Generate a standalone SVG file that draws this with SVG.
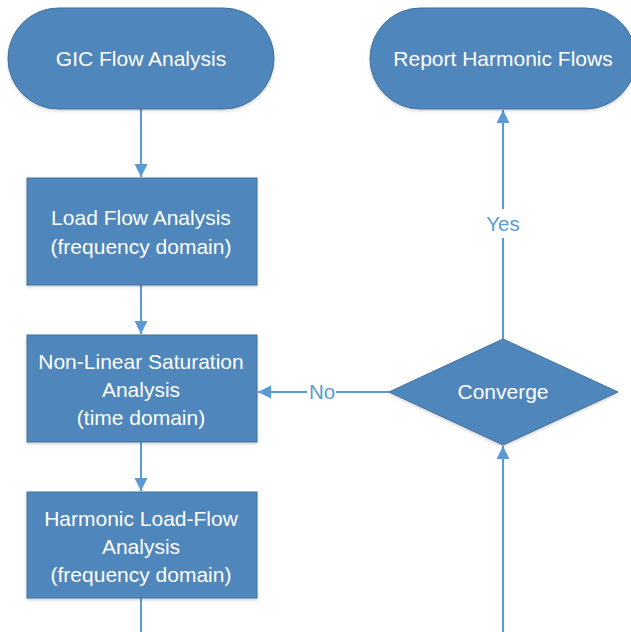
<svg xmlns="http://www.w3.org/2000/svg" width="631" height="632" viewBox="0 0 631 632">
<style>
.node{fill:#4f86bc;stroke:#41719c;stroke-width:1;filter:url(#sh)}
.t{font-family:"Liberation Sans",Arial,sans-serif;font-size:21px;fill:#ffffff;text-anchor:middle}
.c{fill:none;stroke:#5b9bd5;stroke-width:2}
.lbl{font-family:"Liberation Sans",Arial,sans-serif;font-size:20.5px;fill:#5b9bd5;text-anchor:middle}
</style>
<defs>
<filter id="sh" x="-10%" y="-10%" width="120%" height="130%">
<feDropShadow dx="0" dy="1.5" stdDeviation="1.5" flood-color="#000" flood-opacity="0.18"/>
</filter>
<marker id="ah" markerUnits="userSpaceOnUse" markerWidth="14" markerHeight="14" viewBox="0 0 14 14" refX="13" refY="7" orient="auto">
<path d="M0,0.5 L13,7 L0,13.5 Z" fill="#5b9bd5"/>
</marker>
</defs>
<rect width="631" height="632" fill="#ffffff"/>
<g id="connectors">
<line class="c" x1="141" y1="109" x2="141" y2="177" marker-end="url(#ah)"/>
<line class="c" x1="141" y1="285" x2="141" y2="334" marker-end="url(#ah)"/>
<line class="c" x1="141" y1="442" x2="141" y2="491" marker-end="url(#ah)"/>
<line class="c" x1="141" y1="598" x2="141" y2="632"/>
<line class="c" x1="503" y1="632" x2="503" y2="446" marker-end="url(#ah)"/>
<line class="c" x1="503" y1="339" x2="503" y2="238"/>
<line class="c" x1="503" y1="209" x2="503" y2="110" marker-end="url(#ah)"/>
<line class="c" x1="389" y1="392" x2="336" y2="392"/>
<line class="c" x1="307" y1="392" x2="258" y2="392" marker-end="url(#ah)"/>
<text class="lbl" x="503" y="231">Yes</text>
<text class="lbl" x="322" y="399">No</text>
</g>
<g id="gic">
<rect class="node" x="8" y="8" width="266" height="101" rx="50.5" ry="50.5"/>
<text class="t" x="141" y="66">GIC Flow Analysis</text>
</g>
<g id="report">
<rect class="node" x="370" y="8" width="266" height="101" rx="50.5" ry="50.5"/>
<text class="t" x="503" y="66">Report Harmonic Flows</text>
</g>
<g id="loadflow">
<rect class="node" x="27" y="178" width="230" height="107"/>
<text class="t" x="141" y="225">Load Flow Analysis</text>
<text class="t" x="141" y="254">(frequency domain)</text>
</g>
<g id="nonlinear">
<rect class="node" x="27" y="335" width="230" height="107"/>
<text class="t" x="141" y="369">Non-Linear Saturation</text>
<text class="t" x="141" y="397">Analysis</text>
<text class="t" x="141" y="425">(time domain)</text>
</g>
<g id="harmonic">
<rect class="node" x="27" y="492" width="230" height="106"/>
<text class="t" x="141" y="526">Harmonic Load-Flow</text>
<text class="t" x="141" y="554">Analysis</text>
<text class="t" x="141" y="582">(frequency domain)</text>
</g>
<g id="converge">
<polygon class="node" points="389,392 503,339 618,392 503,445"/>
<text class="t" x="503" y="399">Converge</text>
</g>
</svg>
